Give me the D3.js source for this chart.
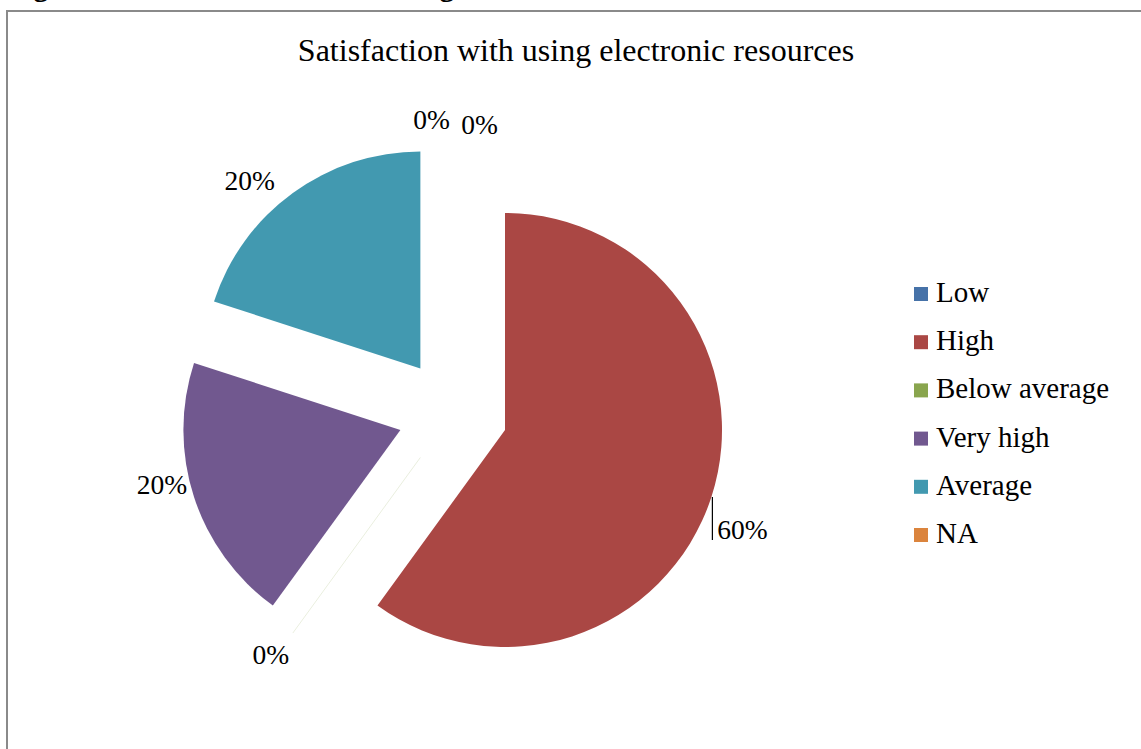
<!DOCTYPE html>
<html>
<head>
<meta charset="utf-8">
<script src="https://cdnjs.cloudflare.com/ajax/libs/d3/7.8.5/d3.min.js"></script>
<style>
  html, body { margin: 0; padding: 0; background: #fff; }
  svg { display: block; }
  text { font-family: "Liberation Serif", "Times New Roman", serif; fill: #000; }
</style>
</head>
<body>
<svg id="chart" width="1141" height="749"></svg>
<script>
// ---- data ----
const categories = ["Low", "High", "Below average", "Very high", "Average", "NA"];
const values = [0, 60, 0, 20, 20, 0];
const colors = ["#4672A8", "#AA4744", "#89A54E", "#71588F", "#4299B0", "#DB843D"];
const title = "Satisfaction with using electronic resources";
const caption = "Figure 4.10: Satisfaction with using electronic resources";
// label nudges (layout only): offset of label centre from the slice's outer point
const labelNudge = [[-21, -21], [31, 33], [-22, 22], [-32, -12], [-43, -12], [27, -16]];
const hairline = [false, false, true, false, false, false];

// ---- layout ----
const svg = d3.select("#chart");
const cx = 452.7, cy = 413, R = 217, explode = 55;

// caption cut off at top of page (as in the reference)
svg.append("text")
  .attr("x", 7).attr("y", -4)
  .attr("font-weight", "bold")
  .attr("font-size", 29.7)
  .text(caption);

// chart border (extends beyond the image on right/bottom)
svg.append("rect")
  .attr("x", 7).attr("y", 11)
  .attr("width", 1200).attr("height", 800)
  .attr("fill", "none")
  .attr("stroke", "#8a8a8a")
  .attr("stroke-width", 2);

svg.append("text")
  .attr("x", 576).attr("y", 61)
  .attr("text-anchor", "middle")
  .attr("font-size", 32)
  .text(title);

const total = d3.sum(values);
const pie = d3.pie().sort(null).value(d => d).startAngle(0).endAngle(2 * Math.PI);
const arcs = pie(values);
const arc = d3.arc().innerRadius(0).outerRadius(R);

const g = svg.append("g").attr("transform", `translate(${cx},${cy})`);

arcs.forEach((a, i) => {
  const mid = (a.startAngle + a.endAngle) / 2;
  const ux = Math.sin(mid), uy = -Math.cos(mid);
  const ox = explode * ux, oy = explode * uy;
  if (a.value > 0) {
    g.append("path")
      .attr("d", arc(a))
      .attr("transform", `translate(${ox},${oy})`)
      .attr("fill", colors[i]);
  } else if (hairline[i]) {
    g.append("line")
      .attr("x1", ox).attr("y1", oy)
      .attr("x2", ox + R * ux).attr("y2", oy + R * uy)
      .attr("stroke", d3.interpolateRgb(colors[i], "#fff")(0.82))
      .attr("stroke-width", 1);
  }
  // label
  const px = ox + R * ux, py = oy + R * uy;
  const lx = px + labelNudge[i][0], ly = py + labelNudge[i][1];
  const pct = Math.round(a.value / total * 100) + "%";
  g.append("text")
    .attr("x", lx).attr("y", ly + 9)
    .attr("text-anchor", "middle")
    .attr("font-size", 27.5)
    .text(pct);
  if (i === 1) {
    // leader line for the big slice
    g.append("line")
      .attr("x1", px + 1).attr("y1", py)
      .attr("x2", px + 1).attr("y2", ly + 10)
      .attr("stroke", "#000").attr("stroke-width", 1.2);
  }
});

// legend
const legend = svg.append("g").attr("transform", "translate(914,294)");
categories.forEach((c, i) => {
  const row = legend.append("g").attr("transform", `translate(0,${i * 48.2})`);
  row.append("rect").attr("x", 0).attr("y", -7).attr("width", 14).attr("height", 14)
    .attr("fill", colors[i]);
  row.append("text").attr("x", 22).attr("y", 8).attr("font-size", 29).text(c);
});
</script>
</body>
</html>
